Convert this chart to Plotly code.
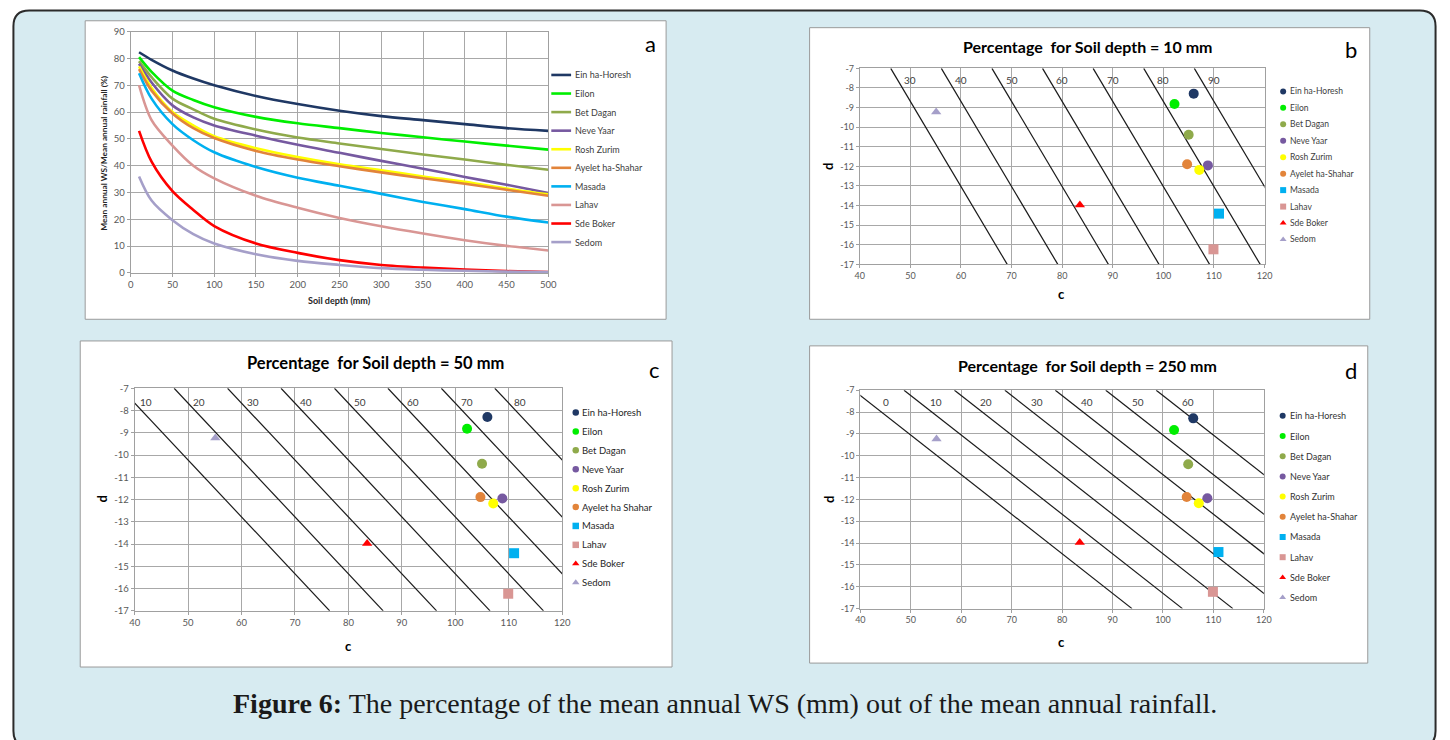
import math
import plotly.graph_objects as go

W, H = 1450, 740
FONT = "Lato, Carlito, Liberation Sans, sans-serif"

# ---------------- data ----------------
stations = ["Ein ha-Horesh", "Eilon", "Bet Dagan", "Neve Yaar", "Rosh Zurim",
            "Ayelet ha-Shahar", "Masada", "Lahav", "Sde Boker", "Sedom"]
stations_c = ["Ein ha-Horesh", "Eilon", "Bet Dagan", "Neve Yaar", "Rosh Zurim",
              "Ayelet ha Shahar", "Masada", "Lahav", "Sde Boker", "Sedom"]
colors = ["#1f3864", "#00ee00", "#8faa4b", "#7659a0", "#ffff00",
          "#e2843a", "#00b0f0", "#d99694", "#ff0000", "#a59fc9"]
symbols = ["circle"] * 6 + ["square"] * 2 + ["triangle-up"] * 2

soil_depth = [10, 25, 50, 75, 100, 150, 200, 250, 300, 350, 400, 450, 500]
ws_ein = [82.3, 79.5, 75.5, 72.5, 70.0, 66.0, 63.0, 60.5, 58.5, 57.0, 55.5, 54.0, 53.0]
ws_eilon = [80.5, 75.0, 68.0, 64.5, 61.8, 58.2, 55.8, 54.0, 52.2, 50.6, 49.0, 47.5, 46.0]
ws_betdagan = [79.0, 73.0, 65.0, 61.0, 57.5, 53.5, 50.5, 48.3, 46.2, 44.2, 42.3, 40.3, 38.5]
ws_neveyaar = [78.0, 71.0, 62.5, 58.0, 55.0, 51.2, 47.8, 44.8, 41.8, 38.9, 35.8, 32.9, 29.8]
ws_roshzurim = [77.0, 69.0, 60.0, 55.0, 51.0, 46.5, 43.2, 40.5, 38.3, 36.0, 34.0, 31.5, 29.3]
ws_ayelet = [76.0, 68.0, 59.5, 54.0, 50.3, 45.5, 42.3, 39.8, 37.5, 35.3, 33.3, 31.0, 28.8]
ws_masada = [74.5, 65.0, 55.5, 49.5, 45.0, 39.5, 35.5, 32.5, 29.5, 26.5, 23.8, 21.0, 18.8]
ws_lahav = [70.0, 57.0, 47.5, 40.0, 35.3, 28.8, 24.3, 20.5, 17.4, 14.7, 12.2, 10.1, 8.4]
ws_sdeboker = [53.0, 41.5, 30.5, 23.5, 17.5, 11.0, 7.5, 4.8, 3.0, 2.0, 1.3, 0.7, 0.3]
ws_sedom = [36.0, 27.0, 19.7, 14.5, 11.0, 7.0, 4.5, 3.0, 1.8, 1.2, 0.8, 0.5, 0.3]
ws_all = [ws_ein, ws_eilon, ws_betdagan, ws_neveyaar, ws_roshzurim,
          ws_ayelet, ws_masada, ws_lahav, ws_sdeboker, ws_sedom]

coef_c = [106.0, 102.2, 105.0, 108.8, 107.1, 104.7, 111.0, 109.9, 83.5, 55.1]
coef_d = [-8.29, -8.82, -10.39, -11.95, -12.18, -11.89, -14.41, -16.23, -13.97, -9.23]

iso_b = [30, 40, 50, 60, 70, 80, 90]
iso_c = [10, 20, 30, 40, 50, 60, 70, 80]
iso_d = [0, 10, 20, 30, 40, 50, 60]
depth_b, depth_c, depth_d = 10, 50, 250

x_ticks_a = list(range(0, 501, 50))
y_ticks_a = list(range(0, 91, 10))
c_ticks = list(range(40, 121, 10))
d_ticks = list(range(-7, -18, -1))

# ---------------- helpers ----------------
def fx(x):
    return x / W

def fy(y):
    return 1 - y / H

fig = go.Figure()

# panel a curves
for name, col, vals in zip(stations, colors, ws_all):
    fig.add_trace(go.Scatter(x=soil_depth, y=vals, mode="lines", name=name,
                             line=dict(color=col, width=2.6, shape="spline", smoothing=0.9),
                             xaxis="x", yaxis="y", showlegend=False, hoverinfo="skip"))

# scatter panels b, c, d
panels = [("x2", "y2", iso_b, depth_b, 2.5, -7.6),
          ("x3", "y3", iso_c, depth_c, 2.3, -7.62),
          ("x4", "y4", iso_d, depth_d, 3.3, -7.55)]
for xa, ya, levels, depth, lab_off, lab_d in panels:
    L = math.log(depth)
    xs, ys = [], []
    for p in levels:
        xs += [p + 7 * L, p + 17 * L, None]
        ys += [-7, -17, None]
    fig.add_trace(go.Scatter(x=xs, y=ys, mode="lines", line=dict(color="#1a1a1a", width=1.2),
                             xaxis=xa, yaxis=ya, showlegend=False, hoverinfo="skip"))
    for p in levels:
        fig.add_annotation(x=p - lab_d * L + lab_off, y=lab_d, xref=xa, yref=ya,
                           text=str(p), showarrow=False,
                           font=dict(family=FONT, size=10, color="#404040"))
    for i, name in enumerate(stations):
        sym = symbols[i]
        size = 10 if sym != "triangle-up" else 9
        fig.add_trace(go.Scatter(x=[coef_c[i]], y=[coef_d[i]], mode="markers", name=name,
                                 marker=dict(color=colors[i], symbol=sym, size=size, line=dict(width=0)),
                                 xaxis=xa, yaxis=ya, showlegend=False, hoverinfo="skip",
                                 cliponaxis=False))

# ---------------- manual legends (overlay pixel axis) ----------------
la_y0, la_dy = 70.0, 18.85
for i, name in enumerate(stations):
    yy = la_y0 + i * la_dy
    fig.add_trace(go.Scatter(x=[551, 571], y=[yy, yy], mode="lines",
                             line=dict(color=colors[i], width=2.6),
                             xaxis="x5", yaxis="y5", showlegend=False, hoverinfo="skip"))
    fig.add_annotation(x=572.5, y=yy, xref="x5", yref="y5", text=name, showarrow=False,
                       xanchor="left", yanchor="middle",
                       font=dict(family=FONT, size=9, color="#404040"))

legend_specs = [  # (marker x, text x, first y, step, font size, names, msize, text color)
    (1290.5, 1295.5, 86.7, 16.7, 8.5, stations, 6, "#404040"),
    (575.7, 580.5, 412.7, 19.18, 9.5, stations_c, 6.5, "#262626"),
    (1290.0, 1295.0, 416.0, 20.5, 9, stations, 6, "#333333"),
]
for mx, tx, y0, dy, fs, names, ms, tc in legend_specs:
    ly = [y0 + i * dy for i in range(len(names))]
    fig.add_trace(go.Scatter(x=[mx] * len(names), y=ly, mode="markers",
                             marker=dict(color=colors, symbol=symbols, size=ms, line=dict(width=0)),
                             xaxis="x5", yaxis="y5", showlegend=False, hoverinfo="skip",
                             cliponaxis=False))
    for i, name in enumerate(names):
        fig.add_annotation(x=tx, y=ly[i], xref="x5", yref="y5", text=name, showarrow=False,
                           xanchor="left", yanchor="middle",
                           font=dict(family=FONT, size=fs, color=tc))

# ---------------- background shapes ----------------
shapes = []
x0, y0, x1, y1, r = 7.5, 4.5, 1444.5, 752, 16
path = (f"M {fx(x0+r)},{fy(y0)} L {fx(x1-r)},{fy(y0)} "
        f"Q {fx(x1)},{fy(y0)} {fx(x1)},{fy(y0+r)} L {fx(x1)},{fy(y1-r)} "
        f"Q {fx(x1)},{fy(y1)} {fx(x1-r)},{fy(y1)} L {fx(x0+r)},{fy(y1)} "
        f"Q {fx(x0)},{fy(y1)} {fx(x0)},{fy(y1-r)} L {fx(x0)},{fy(y0+r)} "
        f"Q {fx(x0)},{fy(y0)} {fx(x0+r)},{fy(y0)} Z")
shapes.append(dict(type="path", path=path, xref="paper", yref="paper",
                   line=dict(color="#2b2b2b", width=2), fillcolor="#d7ebf1", layer="below"))
boxes = [(80, 15, 667, 318), (812, 22, 1378, 318), (75, 340, 673, 671), (812, 345, 1376, 667)]
for bx0, by0, bx1, by1 in boxes:
    shapes.append(dict(type="rect", xref="paper", yref="paper",
                       x0=fx(bx0), x1=fx(bx1), y0=fy(by1), y1=fy(by0),
                       fillcolor="white", line=dict(color="#9a9a9a", width=1), layer="below"))

# ---------------- text annotations ----------------
def ann(x, y, text, size, bold=False, angle=0, color="black", family=FONT):
    fig.add_annotation(x=x, y=y, xref="x5", yref="y5",
                       text=f"<b>{text}</b>" if bold else text, showarrow=False,
                       textangle=angle, xanchor="center", yanchor="middle",
                       font=dict(family=family, size=size, color=color))

ann(99, 149, "Mean annual WS/Mean annual rainfall (%)", 8.3, bold=True, angle=-90, color="#262626")
ann(337, 299, "Soil depth (mm)", 9, bold=True, color="#262626")
ann(651, 38, "a", 22)
ann(1093, 41, "Percentage  for Soil depth = 10 mm", 16, bold=True)
ann(1359, 44, "b", 22)
ann(830, 163, "d", 13, bold=True, angle=-90)
ann(1067, 292, "c", 13, bold=True)
ann(373, 362, "Percentage  for Soil depth = 50 mm", 16.5, bold=True)
ann(655, 369, "c", 22)
ann(97, 501, "d", 13, bold=True, angle=-90)
ann(346, 650, "c", 13, bold=True)
ann(1093, 365, "Percentage  for Soil depth = 250 mm", 16, bold=True)
ann(1359, 370, "d", 22)
ann(831, 501, "d", 13, bold=True, angle=-90)
ann(1067, 646, "c", 13, bold=True)
ann(727, 708, "<b>Figure 6:</b> The percentage of the mean annual WS (mm) out of the mean annual rainfall.",
    28, color="#1a1a1a", family="Liberation Serif, DejaVu Serif, serif")

# ---------------- axes ----------------
def axis_common(size=9):
    return dict(showgrid=True, gridcolor="#a8a8a8", gridwidth=1.2, showline=True,
                linecolor="#a0a0a0", linewidth=1, mirror=True, ticks="outside", ticklen=3,
                tickcolor="#a0a0a0", zeroline=False, fixedrange=True,
                tickfont=dict(family=FONT, size=size, color="#595959"))

layout_axes = dict(
    xaxis=dict(domain=[fx(126), fx(548)], range=[0, 500], tickvals=x_ticks_a, anchor="y",
               **axis_common(9.5)),
    yaxis=dict(domain=[fy(271), fy(26)], range=[0, 90], tickvals=y_ticks_a, anchor="x",
               **axis_common(9.5)),
    xaxis2=dict(domain=[fx(862.7), fx(1271.7)], range=[40, 120], tickvals=c_ticks, anchor="y2",
                **axis_common(9)),
    yaxis2=dict(domain=[fy(262.3), fy(63.3)], range=[-17, -7], tickvals=d_ticks,
                ticktext=[str(v) for v in d_ticks], anchor="x2", **axis_common(9)),
    xaxis3=dict(domain=[fx(130), fx(562)], range=[40, 120], tickvals=c_ticks, anchor="y3",
                **axis_common(9.5)),
    yaxis3=dict(domain=[fy(614), fy(388)], range=[-17, -7], tickvals=d_ticks,
                ticktext=[str(v) for v in d_ticks], anchor="x3", **axis_common(9.5)),
    xaxis4=dict(domain=[fx(863.3), fx(1271)], range=[40, 120], tickvals=c_ticks, anchor="y4",
                **axis_common(9)),
    yaxis4=dict(domain=[fy(611.7), fy(390)], range=[-17, -7], tickvals=d_ticks,
                ticktext=[str(v) for v in d_ticks], anchor="x4", **axis_common(9)),
    xaxis5=dict(domain=[0, 1], range=[0, W], visible=False, fixedrange=True, anchor="y5"),
    yaxis5=dict(domain=[0, 1], range=[H, 0], visible=False, fixedrange=True, anchor="x5"),
)

fig.update_layout(width=W, height=H, margin=dict(l=0, r=0, t=0, b=0),
                  paper_bgcolor="#ffffff", plot_bgcolor="rgba(0,0,0,0)",
                  shapes=shapes, showlegend=False, **layout_axes)

fig.write_html("out.html", config={"displayModeBar": False})
